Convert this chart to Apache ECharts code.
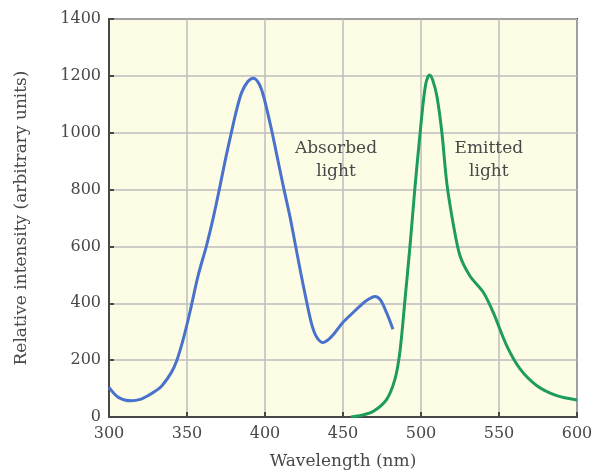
<!DOCTYPE html>
<html>
<head>
<meta charset="utf-8">
<script src="https://cdn.jsdelivr.net/npm/echarts@6/dist/echarts.min.js"></script>
<style>
  html, body { margin: 0; padding: 0; background: #fff; }
  #chart { width: 593px; height: 470px; }
</style>
</head>
<body>
<div id="chart"></div>
<script>
// absorbed light (wavelength nm, intensity)
const absorbedX = [300, 306, 314.5, 320, 325, 330, 334, 340, 343.4, 347.6, 352, 357, 362.6, 367, 370.7, 374.4, 378.2, 381.8, 385, 389, 392.5, 396, 399, 404, 408, 412, 416, 419.5, 423, 426.7, 430, 433, 437, 441, 445, 450, 456, 461, 466, 470.5, 474, 478, 482];
const absorbedY = [104, 69, 57, 62, 75, 92, 110, 157, 198, 274, 372, 495, 605, 705, 800, 900, 995, 1080, 1141, 1180, 1192, 1174, 1130, 1015, 910, 805, 705, 605, 505, 405, 325, 282, 262, 274, 298, 333, 365, 391, 413, 424, 412, 366, 309];

// emitted light
const emittedX = [455, 462, 469.5, 478, 483.3, 486.5, 489.7, 493, 496, 499, 501.7, 503.5, 505.5, 507.5, 510.2, 513.4, 516.6, 520.9, 525, 531.4, 540, 546.3, 555, 563.5, 574.3, 587, 600];
const emittedY = [0, 6, 20, 62, 133, 230, 410, 605, 800, 975, 1120, 1182, 1203, 1185, 1128, 1000, 820, 672, 567, 496, 438, 368, 250, 169, 110, 75, 60];

const xTicks = [300, 350, 400, 450, 500, 550, 600];
const yTicks = [0, 200, 400, 600, 800, 1000, 1200, 1400];

const pair = (xs, ys) => xs.map((x, i) => [x, ys[i]]);

const chart = echarts.init(document.getElementById("chart"));
const serif = "DejaVu Serif";
const ink = "#484848";

chart.setOption({
  animation: false,
  grid: {
    left: 109,
    right: 16,
    top: 19,
    bottom: 53,
    outerBoundsMode: "none",
    show: true,
    backgroundColor: "#fdfde6",
    borderColor: ink,
    borderWidth: 2
  },
  xAxis: {
    type: "value",
    min: xTicks[0],
    max: xTicks[xTicks.length - 1],
    interval: 50,
    name: "Wavelength (nm)",
    nameLocation: "middle",
    nameGap: 36,
    nameTextStyle: { fontFamily: serif, fontSize: 17, color: ink },
    axisLine: { lineStyle: { color: ink, width: 2 } },
    axisTick: { inside: true, length: 5, lineStyle: { color: ink, width: 2 } },
    axisLabel: { fontFamily: serif, fontSize: 16, color: ink, margin: 9, formatter: v => String(v) },
    splitLine: { lineStyle: { color: "#bdbdbd", width: 1.5 } }
  },
  yAxis: {
    type: "value",
    min: yTicks[0],
    max: yTicks[yTicks.length - 1],
    interval: 200,
    name: "Relative intensity (arbitrary units)",
    nameLocation: "middle",
    nameGap: 79,
    nameTextStyle: { fontFamily: serif, fontSize: 17, color: ink },
    axisLine: { lineStyle: { color: ink, width: 2 } },
    axisTick: { show: true, inside: true, length: 5, lineStyle: { color: ink, width: 2 } },
    axisLabel: { fontFamily: serif, fontSize: 16, color: ink, margin: 8, formatter: v => String(v) },
    splitLine: { lineStyle: { color: "#bdbdbd", width: 1.5 } }
  },
  series: [
    {
      name: "Absorbed light",
      type: "line",
      data: pair(absorbedX, absorbedY),
      smooth: 0.3,
      showSymbol: false,
      lineStyle: { color: "#4a72cc", width: 3 },
      markPoint: {
        symbolSize: 0,
        data: [{ coord: [445.5, 905], value: 0 }],
        label: {
          show: true,
          formatter: "Absorbed\nlight",
          fontFamily: serif,
          fontSize: 17,
          lineHeight: 23,
          color: ink,
          align: "center"
        }
      }
    },
    {
      name: "Emitted light",
      type: "line",
      data: pair(emittedX, emittedY),
      smooth: 0.3,
      showSymbol: false,
      lineStyle: { color: "#1e9c5c", width: 3 },
      markPoint: {
        symbolSize: 0,
        data: [{ coord: [543.5, 905], value: 0 }],
        label: {
          show: true,
          formatter: "Emitted\nlight",
          fontFamily: serif,
          fontSize: 17,
          lineHeight: 23,
          color: ink,
          align: "center"
        }
      }
    }
  ]
});
</script>
</body>
</html>
